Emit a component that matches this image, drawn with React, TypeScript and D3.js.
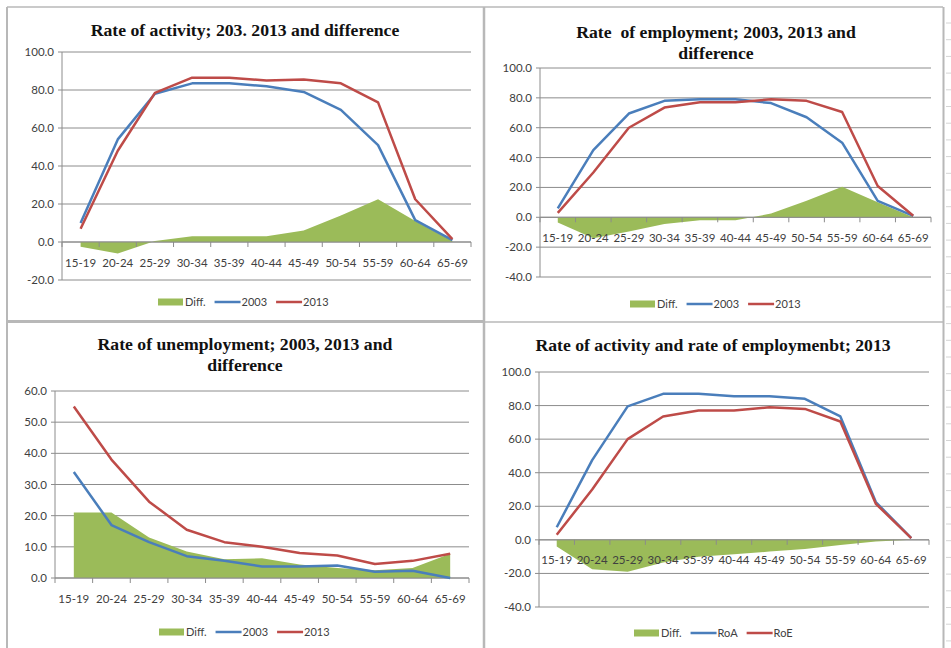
import * as d3 from 'd3';

const ageGroups = ['15-19', '20-24', '25-29', '30-34', '35-39', '40-44', '45-49', '50-54', '55-59', '60-64', '65-69'];

// rate of activity
const activity2003 = [10, 54, 78, 83.5, 83.5, 82, 79, 69.5, 51, 11.5, 1];
const activity2013 = [7, 48, 78.5, 86.5, 86.5, 85, 85.5, 83.5, 73.5, 22.5, 1.5];
const activityDiff = [-2.5, -6, 0.5, 3, 3, 3, 6, 14, 22.5, 11, 0.5];

// rate of employment
const employment2003 = [6, 45, 69.5, 78, 79, 79, 76.5, 67, 50, 11, 1];
const employment2013 = [3, 30, 60, 73.5, 77, 77, 79, 78, 70.5, 21, 1];
const employmentDiff = [-3.5, -14, -9.5, -4.5, -2, -2, 2.5, 11, 20.5, 10, 0];

// rate of unemployment
const unemployment2003 = [34, 17, 11.5, 7, 5.5, 3.7, 3.7, 4, 2, 2.3, 0];
const unemployment2013 = [55, 38, 24.5, 15.5, 11.5, 10, 8, 7.2, 4.5, 5.5, 7.8];
const unemploymentDiff = [21, 21, 13, 8.5, 6, 6.3, 4.3, 3.2, 2.5, 3.2, 7.8];

// activity vs employment, 2013
const roa2013 = [7.5, 47.5, 79.5, 87, 87, 85.5, 85.5, 84, 73.5, 22.5, 1];
const roe2013 = [3, 30, 60, 73.5, 77, 77, 79, 78, 70.5, 21.5, 1];
const roaRoeDiff = [-4, -17.5, -19, -13.5, -10, -8.5, -7, -5.5, -3, -1, 0];

const GREEN = '#9bbb59';
const BLUE = '#4a7ebb';
const RED = '#be4b48';
const GRID = '#8c8c8c';
const LABEL_FONT = 'Lato, "Open Sans", sans-serif';

let ctx: CanvasRenderingContext2D | null = null;
const textWidth = (s: string, font: string) => {
  if (!ctx) ctx = document.createElement('canvas').getContext('2d');
  if (!ctx) return s.length * 6;
  ctx.font = font;
  return ctx.measureText(s).width;
};

interface PanelProps {
  title: string[];
  titleX: number;
  titleY: number;
  plot: { left: number; right: number; top: number; bottom: number };
  domain: [number, number];
  step: number;
  diff: number[];
  a: number[];
  b: number[];
  names: string[];
  labelY: number;
  legendX: number;
  legendY: number;
}

const Panel = (p: PanelProps) => {
  const x = d3.scaleBand<string>().domain(ageGroups).range([p.plot.left, p.plot.right]).padding(0);
  const y = d3.scaleLinear().domain(p.domain).range([p.plot.bottom, p.plot.top]);
  const cx = (i: number) => (x(ageGroups[i]) ?? 0) + x.bandwidth() / 2;
  const ticks = d3.range(p.domain[0], p.domain[1] + 0.001, p.step);
  const y0 = y(0);

  const area = d3
    .area<number>()
    .x((_, i) => cx(i))
    .y0(y0)
    .y1((d) => y(d));
  const line = d3
    .line<number>()
    .x((_, i) => cx(i))
    .y((d) => y(d));

  const legendFont = `11px ${LABEL_FONT}`;
  let lx = p.legendX;
  const legendItems = p.names.map((n, i) => {
    const item = { x: lx, name: n, i };
    lx += 27 + textWidth(n, legendFont) + 9;
    return item;
  });

  return (
    <g>
      {p.title.map((t, i) => (
        <text
          key={t}
          x={p.titleX}
          y={p.titleY + i * 21}
          textAnchor="middle"
          dy="0.35em"
          style={{ font: 'bold 17.7px "Liberation Serif", "Times New Roman", serif', whiteSpace: 'pre' }}
          fill="#111"
        >
          {t}
        </text>
      ))}
      {ticks.map((t) => (
        <g key={t}>
          <line x1={p.plot.left - 4} x2={p.plot.right} y1={y(t)} y2={y(t)} stroke={GRID} strokeWidth={1} />
          <text
            x={p.plot.left - 8}
            y={y(t)}
            dy="0.35em"
            textAnchor="end"
            style={{ font: `11.5px ${LABEL_FONT}` }}
            fill="#404040"
          >
            {t.toFixed(1)}
          </text>
        </g>
      ))}
      <path d={area(p.diff) ?? ''} fill={GREEN} />
      <line x1={p.plot.left} x2={p.plot.left} y1={p.plot.top} y2={p.plot.bottom} stroke={GRID} />
      <line x1={p.plot.left} x2={p.plot.right} y1={y0} y2={y0} stroke={GRID} />
      {d3.range(ageGroups.length + 1).map((i) => {
        const tx = p.plot.left + i * x.step();
        return <line key={i} x1={tx} x2={tx} y1={y0} y2={y0 + 5} stroke={GRID} />;
      })}
      {ageGroups.map((g, i) => (
        <text
          key={g}
          x={cx(i)}
          y={p.labelY}
          dy="0.35em"
          textAnchor="middle"
          style={{ font: `11.5px ${LABEL_FONT}` }}
          fill="#404040"
        >
          {g}
        </text>
      ))}
      <path d={line(p.a) ?? ''} fill="none" stroke={BLUE} strokeWidth={2.5} strokeLinejoin="round" />
      <path d={line(p.b) ?? ''} fill="none" stroke={RED} strokeWidth={2.5} strokeLinejoin="round" />
      {legendItems.map((it) => (
        <g key={it.name}>
          {it.i === 0 ? (
            <rect x={it.x} y={p.legendY - 3.5} width={25} height={7} fill={GREEN} />
          ) : (
            <line
              x1={it.x}
              x2={it.x + 26}
              y1={p.legendY}
              y2={p.legendY}
              stroke={it.i === 1 ? BLUE : RED}
              strokeWidth={2.5}
            />
          )}
          <text x={it.x + 27} y={p.legendY} dy="0.35em" style={{ font: legendFont }} fill="#404040">
            {it.name}
          </text>
        </g>
      ))}
    </g>
  );
};

export default function App() {
  const sheetRows = d3.range(23, 648, 16.7);
  return (
    <svg
      width={951}
      height={648}
      style={{ position: 'absolute', left: 0, top: 0, background: '#fff' }}
    >
      <rect width={951} height={648} fill="#fff" />
      {sheetRows.map((r) => (
        <line key={r} x1={946} x2={951} y1={r} y2={r} stroke="#d4d4d4" />
      ))}
      {/* frames */}
      <g stroke="#b8b8b8" fill="none">
        <line x1={7} x2={943} y1={7} y2={7} strokeWidth={1.5} />
        <line x1={7} x2={7} y1={7} y2={648} strokeWidth={2} />
        <line x1={484} x2={484} y1={7} y2={648} strokeWidth={2.5} />
        <line x1={943.5} x2={943.5} y1={7} y2={648} strokeWidth={2} />
        <line x1={7} x2={484} y1={321.5} y2={321.5} strokeWidth={3} />
        <line x1={484} x2={943} y1={322} y2={322} strokeWidth={1.5} />
      </g>
      <Panel
        title={['Rate of activity; 203. 2013 and difference']}
        titleX={245}
        titleY={30}
        plot={{ left: 62, right: 471, top: 52, bottom: 280 }}
        domain={[-20, 100]}
        step={20}
        diff={activityDiff}
        a={activity2003}
        b={activity2013}
        names={['Diff.', '2003', '2013']}
        labelY={263}
        legendX={158}
        legendY={302}
      />
      <Panel
        title={['Rate  of employment; 2003, 2013 and', 'difference']}
        titleX={716}
        titleY={32}
        plot={{ left: 540, right: 931, top: 68, bottom: 277 }}
        domain={[-40, 100]}
        step={20}
        diff={employmentDiff}
        a={employment2003}
        b={employment2013}
        names={['Diff.', '2003', '2013']}
        labelY={238}
        legendX={630}
        legendY={304}
      />
      <Panel
        title={['Rate of unemployment; 2003, 2013 and', 'difference']}
        titleX={245}
        titleY={344}
        plot={{ left: 55, right: 469, top: 391, bottom: 578 }}
        domain={[0, 60]}
        step={10}
        diff={unemploymentDiff}
        a={unemployment2003}
        b={unemployment2013}
        names={['Diff.', '2003', '2013']}
        labelY={599}
        legendX={159}
        legendY={632}
      />
      <Panel
        title={['Rate of activity and rate of employmenbt; 2013']}
        titleX={713}
        titleY={345}
        plot={{ left: 539, right: 929, top: 372, bottom: 607 }}
        domain={[-40, 100]}
        step={20}
        diff={roaRoeDiff}
        a={roa2013}
        b={roe2013}
        names={['Diff.', 'RoA', 'RoE']}
        labelY={560}
        legendX={634}
        legendY={633}
      />
    </svg>
  );
}
